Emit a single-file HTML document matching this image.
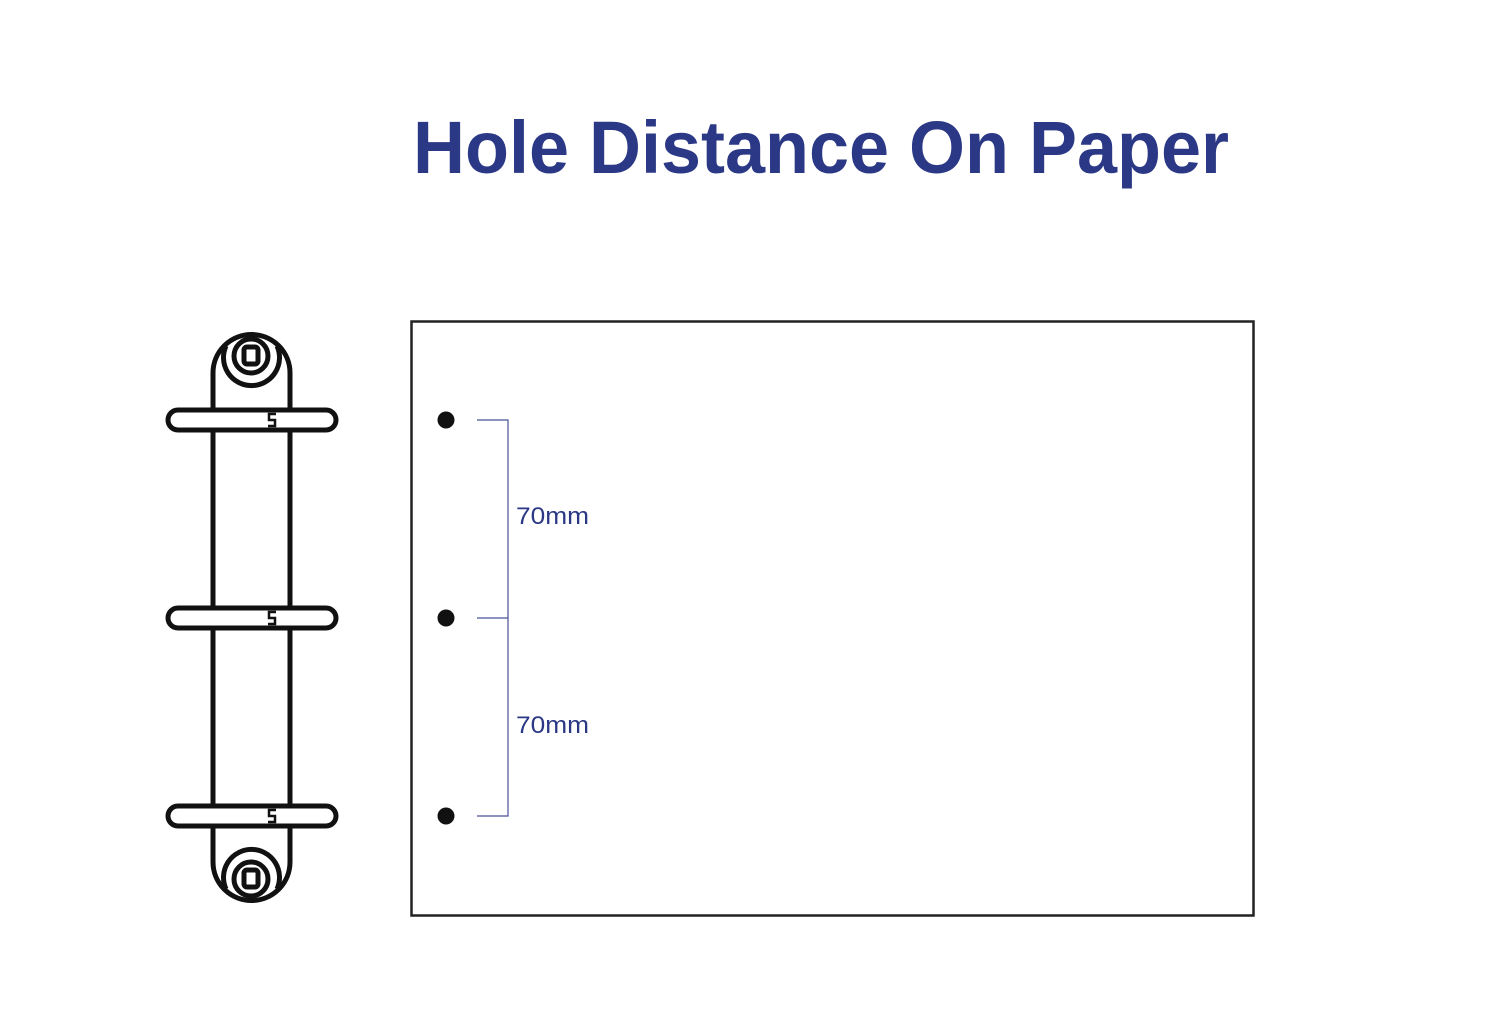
<!DOCTYPE html>
<html><head><style>html,body{margin:0;padding:0;background:#fff}svg{display:block}</style></head>
<body>
<svg width="1501" height="1021" viewBox="0 0 1501 1021" xmlns="http://www.w3.org/2000/svg">
<rect width="1501" height="1021" fill="#fff"/>
<text x="413" y="173" font-family="Liberation Sans, sans-serif" font-weight="bold" font-size="74" fill="#2b3886" textLength="816" lengthAdjust="spacingAndGlyphs">Hole Distance On Paper</text>
<rect x="411.5" y="321.5" width="842" height="594" fill="none" stroke="#222" stroke-width="2.5"/>
<g fill="#111">
<circle cx="446" cy="420" r="8.5"/><circle cx="446" cy="618" r="8.5"/><circle cx="446" cy="816" r="8.5"/>
</g>
<g stroke="#4a5098" stroke-width="1.2" fill="none">
<path d="M477 420H508V816H477M477 618H508"/>
</g>
<g font-family="Liberation Sans, sans-serif" font-size="24" fill="#2b3886">
<text x="516" y="524" textLength="73" lengthAdjust="spacingAndGlyphs">70mm</text>
<text x="516" y="733" textLength="73" lengthAdjust="spacingAndGlyphs">70mm</text>
</g>
<g stroke="#111" stroke-width="5" fill="none" stroke-linejoin="round">
<path d="M213 410V373A38.5 38.5 0 0 1 290 373V410"/>
<path d="M213 430V608M290 430V608M213 628V806M290 628V806"/>
<path d="M213 826V862A38.5 38.5 0 0 0 290 862V826"/>
<rect x="168" y="410" width="168" height="20" rx="10"/>
<rect x="168" y="608" width="168" height="20" rx="10"/>
<rect x="168" y="806" width="168" height="20" rx="10"/>
<path d="M226 346A28 28 0 1 0 277 346"/>
<circle cx="251" cy="356" r="17"/>
<rect x="244" y="347" width="14" height="17" rx="3"/>
<path d="M226 889A28 28 0 1 1 277 889"/>
<circle cx="251" cy="879" r="17"/>
<rect x="244" y="870" width="14" height="17" rx="3"/>
</g>
<g stroke="#111" stroke-width="2.5" fill="none">
<path d="M276 414h-7v6h6v6h-7"/>
<path d="M276 612h-7v6h6v6h-7"/>
<path d="M276 810h-7v6h6v6h-7"/>
</g>
</svg>
</body></html>
